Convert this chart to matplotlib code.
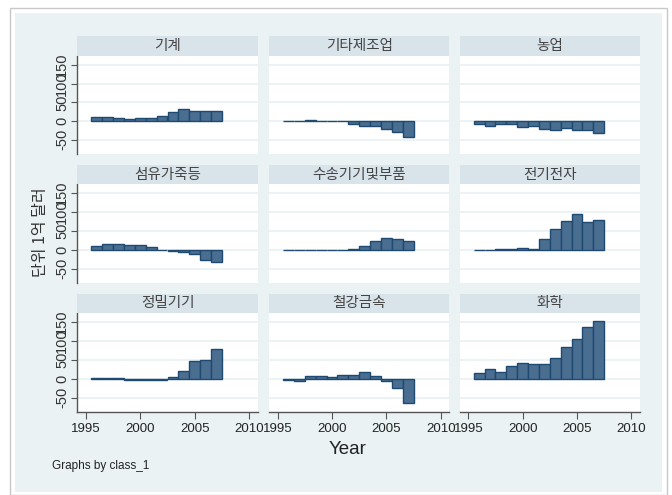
import matplotlib
matplotlib.use("Agg")
import matplotlib.pyplot as plt
from matplotlib.patches import Rectangle

plt.rcParams['font.family'] = ['Liberation Sans', 'Noto Sans CJK KR', 'DejaVu Sans']

years = [1996, 1997, 1998, 1999, 2000, 2001, 2002, 2003, 2004, 2005, 2006, 2007]
classes = ['기계', '기타제조업', '농업', '섬유가죽등', '수송기기및부품', '전기전자', '정밀기기', '철강금속', '화학']

machinery = [12, 10, 7, 5, 9, 9, 13, 24, 31, 26, 26, 26]
other_mfg = [0, -1, 2, 1, 0, -1, -8, -12, -14, -21, -29, -43]
agriculture = [-9, -13, -9, -9, -15, -14, -20, -24, -18, -25, -23, -33]
textiles = [10, 14, 16, 12, 12, 7, -1, -3, -7, -11, -26, -33]
transport = [0.5, 0.5, 0.5, 0.5, 0.5, 0.5, 2, 11, 24, 30, 28, 24]
electronics = [0.5, 0.5, 3, 1, 5, 2, 29, 54, 75, 94, 74, 80]
precision = [2, 2, 2, -2, -2, -2, -2, 4, 21, 46, 50, 80]
steel = [-2, -5, 7, 7, 4, 10, 9, 19, 8, -6, -24, -65]
chemical = [14, 26, 19, 33, 43, 38, 38, 54, 85, 105, 137, 153]

series = [machinery, other_mfg, agriculture, textiles, transport,
          electronics, precision, steel, chemical]

yticks = [-50, 0, 50, 100, 150]
xticks = [1995, 2000, 2005, 2010]

W, H = 672, 495
fig = plt.figure(figsize=(W / 100, H / 100), dpi=100)
fig.patch.set_facecolor('white')

BG = '#EAF2F3'
STRIP = '#D8E4EA'
FILL = '#4A6E90'
EDGE = '#1E4A72'
TXT = '#333333'

# outer frame
fig.patches.append(Rectangle((10 / W, 0), (667 - 10) / W, (H - 8) / H, transform=fig.transFigure,
                             facecolor='white', edgecolor='#C8C8C8', linewidth=1.0, zorder=-3))
fig.patches.append(Rectangle((15 / W, 3 / H), (662 - 15) / W, (H - 13 - 3) / H, transform=fig.transFigure,
                             facecolor=BG, edgecolor='none', zorder=-2))

col_left = [77.3, 269.0, 459.6]
col_w = 180.4
row_plot = [(56, 154), (184, 283), (313, 412)]
row_strip = [(36, 56), (165, 184), (294, 313)]


def fx(px):
    return px / W


def fy(py):
    return 1 - py / H


for i, (name, vals) in enumerate(zip(classes, series)):
    r, c = divmod(i, 3)
    x0 = col_left[c]
    t, b = row_plot[r]
    ax = fig.add_axes([fx(x0), fy(b), col_w / W, (b - t) / H])
    ax.set_facecolor('white')
    for yv in yticks:
        ax.axhline(yv, color=BG, linewidth=1.3, zorder=0)
    ax.bar(years, vals, width=1.0, color=FILL, edgecolor=EDGE, linewidth=1.0, zorder=2)
    ax.set_xlim(1994.2, 2010.8)
    ax.set_ylim(-88, 174)
    for s in ['top', 'right']:
        ax.spines[s].set_visible(False)
    ax.spines['left'].set_visible(c == 0)
    ax.spines['bottom'].set_visible(r == 2)
    for s in ['left', 'bottom']:
        ax.spines[s].set_color('#555555')
        ax.spines[s].set_linewidth(1.0)
    ax.set_yticks(yticks)
    ax.set_xticks(xticks)
    if c == 0:
        ax.tick_params(axis='y', length=4, width=0.8, color='#555555', labelsize=10.5,
                       labelcolor=TXT, pad=2)
        ax.set_yticklabels([str(v) for v in yticks], rotation=90, va='center')
    else:
        ax.tick_params(axis='y', left=False, labelleft=False)
    if r == 2:
        ax.tick_params(axis='x', length=5, width=0.8, color='#555555', labelsize=9.5,
                       labelcolor='#222222', pad=3)
    else:
        ax.tick_params(axis='x', bottom=False, labelbottom=False)

    st, sb = row_strip[r]
    sax = fig.add_axes([fx(x0), fy(sb), col_w / W, (sb - st) / H])
    sax.set_facecolor(STRIP)
    sax.set_xticks([])
    sax.set_yticks([])
    for s in sax.spines.values():
        s.set_visible(False)
    sax.text(0.5, 0.5, name, ha='center', va='center', fontsize=10.5, color='#444444',
             family=['Noto Sans CJK KR', 'DejaVu Sans'], transform=sax.transAxes)

fig.text(fx(40), fy(232), '단위 1억 달러', rotation=90, ha='center', va='center',
         fontsize=11.5, color=TXT, family=['Noto Sans CJK KR', 'DejaVu Sans'])
fig.text(fx(348), fy(450), 'Year', ha='center', va='center', fontsize=13.5, color='#222222')
fig.text(fx(52), fy(466), 'Graphs by class_1', ha='left', va='center', fontsize=8.5, color='#222222')

fig.savefig('out.png', dpi=100, facecolor=fig.get_facecolor())
